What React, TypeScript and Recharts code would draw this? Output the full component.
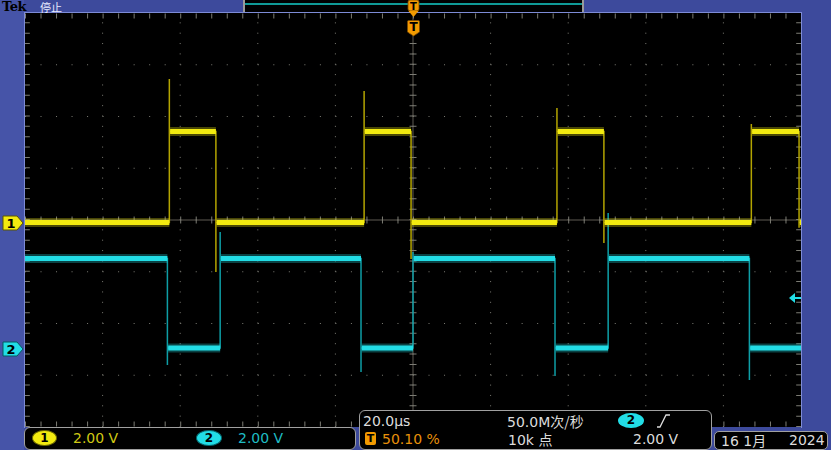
import React from 'react';
import { LineChart, Line, XAxis, YAxis, ReferenceLine } from 'recharts';

// ---- data (time in µs, volts) ----
const timeDomain = [-100, 100];
const timeGridTicks = [-80, -60, -40, -20, 0, 20, 40, 60, 80];
const ch1GridTicks = [-6, -4, -2, 0, 2, 4, 6]; // volts on ch1 scale (2 V/div)

const ch1Low = -0.1;
const ch1High = 3.42;
const ch1RiseTimes = [-62.8, -12.6, 37.1, 87.2];
const ch1RiseSpikes = [5.45, 4.99, 4.33, 3.71];
const ch1FallTimes = [-50.8, -0.5, 49.2, 99.5];
const ch1FallSpikes = [-2.01, -1.51, -0.89, -0.3];

const ch2Low = 0.05;
const ch2High = 3.51;
const ch2FallTimes = [-63.3, -13.4, 36.6, 86.7];
const ch2FallSpikes = [-0.6, -0.87, -1.03, -1.18];
const ch2RiseTimes = [-49.7, 0, 50.3];
const ch2RiseSpikes = [4.54, 3.76, 5.27];

// ---- build tables ----
type P = { t: number; v: number | null };

function buildCh1(): { trace: P[]; levels: P[] } {
  const trace: P[] = [{ t: -100, v: ch1Low }];
  const levels: P[] = [{ t: -100, v: ch1Low }];
  ch1RiseTimes.forEach((r, i) => {
    const f = ch1FallTimes[i];
    trace.push({ t: r, v: ch1Low }, { t: r, v: ch1RiseSpikes[i] }, { t: r, v: ch1High }, { t: f, v: ch1High }, { t: f, v: ch1FallSpikes[i] }, { t: f, v: ch1Low });
    levels.push({ t: r, v: ch1Low }, { t: r, v: null }, { t: r + 0.2, v: ch1High }, { t: f, v: ch1High }, { t: f, v: null }, { t: f + 0.2, v: ch1Low });
  });
  trace.push({ t: 100, v: ch1Low });
  levels.push({ t: 100, v: ch1Low });
  return { trace, levels };
}

function buildCh2(): { trace: P[]; levels: P[] } {
  const trace: P[] = [{ t: -100, v: ch2High }];
  const levels: P[] = [{ t: -100, v: ch2High }];
  ch2FallTimes.forEach((f, i) => {
    trace.push({ t: f, v: ch2High }, { t: f, v: ch2FallSpikes[i] }, { t: f, v: ch2Low });
    levels.push({ t: f, v: ch2High }, { t: f, v: null }, { t: f + 0.2, v: ch2Low });
    const r = ch2RiseTimes[i];
    if (r !== undefined) {
      trace.push({ t: r, v: ch2Low }, { t: r, v: ch2RiseSpikes[i] }, { t: r, v: ch2High });
      levels.push({ t: r, v: ch2Low }, { t: r, v: null }, { t: r + 0.2, v: ch2High });
    }
  });
  trace.push({ t: 100, v: ch2Low });
  levels.push({ t: 100, v: ch2Low });
  return { trace, levels };
}

const ch1 = buildCh1();
const ch2 = buildCh2();

const YEL = '#f2ea10';
const YEL_EDGE = '#b3a400';
const CYN = '#22dde6';
const CYN_EDGE = '#0e9ea6';
const GRID = '#7c7c74';
const CROSS = '#5e5b52';
const BLUE = '#3d4a9c';
const ORANGE = '#f29a00';

const abs = (l: number, t: number, w: number, h: number, extra: React.CSSProperties = {}): React.CSSProperties => ({
  position: 'absolute', left: l, top: t, width: w, height: h, ...extra,
});

const txt = (l: number, t: number, color: string, size = 14, extra: React.CSSProperties = {}): React.CSSProperties => ({
  position: 'absolute', left: l, top: t, color, fontSize: size, fontFamily: '"DejaVu Sans", sans-serif', lineHeight: '16px', whiteSpace: 'nowrap', ...extra,
});

export default function App() {
  const font = '"DejaVu Sans", sans-serif';
  return (
    <div style={{ position: 'fixed', left: 0, top: 0, width: 831, height: 450, background: BLUE, overflow: 'hidden', fontFamily: font }}>
      {/* left strip */}
      <div style={abs(0, 0, 24, 450, { background: '#4654a8' })} />
      {/* plot background */}
      <div style={abs(25, 13, 776, 414, { background: '#000' })} />
      {/* record view */}
      <div style={abs(243, 0, 341, 12, { background: '#000', borderLeft: '2px solid #9a9a9a', borderRight: '2px solid #9a9a9a', boxSizing: 'border-box' })} />
      <div style={abs(245, 3, 337, 2, { background: '#0f9a96' })} />

      <div style={{ position: 'absolute', left: 0, top: 13, width: 831, height: 437, overflow: 'hidden' }}>
        <div style={{ position: 'absolute', left: 0, top: -13 }}>
          <LineChart width={831} height={450} margin={{ top: 13, left: 25, right: 30, bottom: 23 }}>
            <XAxis dataKey="t" type="number" domain={timeDomain} hide allowDataOverflow />
            <YAxis yAxisId="ch1" type="number" domain={[-8, 8]} hide allowDataOverflow />
            <YAxis yAxisId="ch2" type="number" domain={[-3, 13]} hide allowDataOverflow />
            {timeGridTicks.map((t) => (
              <ReferenceLine key={'vx' + t} x={t} yAxisId="ch1" stroke={GRID} strokeDasharray="1 9.35" />
            ))}
            {ch1GridTicks.map((v) => (
              <ReferenceLine key={'hy' + v} y={v} yAxisId="ch1" stroke={GRID} strokeDasharray="1 14.52" />
            ))}
            {/* crosshair */}
            <ReferenceLine x={0} yAxisId="ch1" stroke={CROSS} />
            <ReferenceLine y={0} yAxisId="ch1" stroke={CROSS} />
            <ReferenceLine x={0} yAxisId="ch1" stroke={GRID} strokeWidth={7} strokeDasharray="1 9.35" />
            <ReferenceLine y={0} yAxisId="ch1" stroke={GRID} strokeWidth={7} strokeDasharray="1 14.52" />
            {/* border ticks */}
            <ReferenceLine y={7.88} yAxisId="ch1" stroke={GRID} strokeWidth={5} strokeDasharray="1 14.52" />
            <ReferenceLine y={-7.88} yAxisId="ch1" stroke={GRID} strokeWidth={5} strokeDasharray="1 14.52" />
            <ReferenceLine x={-99.4} yAxisId="ch1" stroke={GRID} strokeWidth={5} strokeDasharray="1 9.35" />
            <ReferenceLine x={99.4} yAxisId="ch1" stroke={GRID} strokeWidth={5} strokeDasharray="1 9.35" />

            {/* channel 2 */}
            <Line data={ch2.trace} dataKey="v" yAxisId="ch2" type="linear" stroke={CYN_EDGE} strokeWidth={1.5} dot={false} isAnimationActive={false} />
            <Line data={ch2.levels} dataKey="v" yAxisId="ch2" type="linear" stroke={CYN} strokeOpacity={0.3} strokeWidth={9} dot={false} isAnimationActive={false} connectNulls={false} />
            <Line data={ch2.levels} dataKey="v" yAxisId="ch2" type="linear" stroke={CYN} strokeWidth={5} dot={false} isAnimationActive={false} connectNulls={false} />
            {/* channel 1 */}
            <Line data={ch1.trace} dataKey="v" yAxisId="ch1" type="linear" stroke={YEL_EDGE} strokeWidth={1.5} dot={false} isAnimationActive={false} />
            <Line data={ch1.levels} dataKey="v" yAxisId="ch1" type="linear" stroke={YEL} strokeOpacity={0.3} strokeWidth={9} dot={false} isAnimationActive={false} connectNulls={false} />
            <Line data={ch1.levels} dataKey="v" yAxisId="ch1" type="linear" stroke={YEL} strokeWidth={5} dot={false} isAnimationActive={false} connectNulls={false} />
          </LineChart>
        </div>
      </div>

      {/* plot borders */}
      <div style={abs(24, 12, 778, 1, { background: '#7d8bd6' })} />
      <div style={abs(24, 12, 1, 416, { background: '#7d8bd6' })} />
      <div style={abs(801, 12, 1, 416, { background: '#7d8bd6' })} />

      {/* header text */}
      <div style={txt(2, 1, '#000', 13, { fontFamily: '"DejaVu Serif", serif', fontWeight: 'bold', lineHeight: '11px', letterSpacing: -0.5 })}>Tek</div>
      <div style={txt(40, 2, '#e8ecff', 11, { fontFamily: '"Noto Sans CJK SC", sans-serif', lineHeight: '10px', height: 10 })}>停止</div>

      {/* trigger markers */}
      <svg style={abs(400, 0, 30, 40)} width={30} height={40}>
        <rect x={8} y={0} width={11} height={11} rx={2} fill={ORANGE} stroke="#7a4a00" strokeWidth={0.8} />
        <text x={13.5} y={9.5} fontSize={10} fontWeight="bold" textAnchor="middle" fill="#000" fontFamily={font}>T</text>
        <polygon points="8.5,11 18.5,11 13.5,17" fill={ORANGE} />
        <path d="M7.5,21.5 Q7.5,20.5 9,20.5 L18,20.5 Q19.5,20.5 19.5,21.5 L19.5,32 L13.5,36 L7.5,32 Z" fill={ORANGE} stroke="#7a4a00" strokeWidth={0.8} />
        <text x={13.5} y={31} fontSize={12} fontWeight="bold" textAnchor="middle" fill="#000" fontFamily={font}>T</text>
      </svg>

      {/* channel markers */}
      <svg style={abs(0, 210, 26, 160)} width={26} height={160}>
        <path d="M3,6 L17,6 L23,13 L17,20 L3,20 Z" fill={YEL} stroke="#5a5600" strokeWidth={1} />
        <text x={11} y={18} fontSize={13} fontWeight="bold" textAnchor="middle" fill="#000" fontFamily={font}>1</text>
        <path d="M3,132 L17,132 L23,139 L17,146 L3,146 Z" fill={CYN} stroke="#055a60" strokeWidth={1} />
        <text x={11} y={144} fontSize={13} fontWeight="bold" textAnchor="middle" fill="#000" fontFamily={font}>2</text>
      </svg>

      {/* trigger level arrow */}
      <svg style={abs(786, 290, 16, 16)} width={16} height={16}>
        <polygon points="3,8 9,3 9,13" fill={CYN} />
        <rect x={8} y={7} width={7} height={2} fill={CYN} />
      </svg>

      {/* bottom readout box 1 */}
      <div style={abs(24, 427, 332, 23, { background: '#000', border: '1px solid #a0a0a0', borderRadius: 6, boxSizing: 'border-box' })} />
      <div style={abs(32, 430, 25, 16, { background: YEL, borderRadius: '50%', border: '1px solid #6a6600', boxSizing: 'border-box', textAlign: 'center', fontSize: 12, fontWeight: 'bold', lineHeight: '14px', color: '#000' })}>1</div>
      <div style={txt(73, 430, '#d0c814', 14)}>2.00 V</div>
      <div style={abs(196, 430, 26, 16, { background: CYN, borderRadius: '50%', border: '1px solid #05666c', boxSizing: 'border-box', textAlign: 'center', fontSize: 12, fontWeight: 'bold', lineHeight: '14px', color: '#000' })}>2</div>
      <div style={txt(238, 430, '#1fbcc4', 14)}>2.00 V</div>

      {/* bottom readout box 2 */}
      <div style={abs(359, 410, 353, 40, { background: '#000', border: '1px solid #a0a0a0', borderRadius: 6, boxSizing: 'border-box' })} />
      <div style={txt(363, 413, '#dcdcdc', 14)}>20.0µs</div>
      <div style={txt(507, 413, '#dcdcdc', 14)}>
        50.0M<span style={{ fontFamily: '"Noto Sans CJK SC", sans-serif' }}>次/秒</span>
      </div>
      <div style={abs(618, 413, 26, 15, { background: CYN, borderRadius: '50%', textAlign: 'center', fontSize: 12, fontWeight: 'bold', lineHeight: '15px', color: '#000' })}>2</div>
      <svg style={abs(655, 413, 18, 16)} width={18} height={16}>
        <path d="M2,14 L5,14 L11,2 L15,2" stroke="#dcdcdc" strokeWidth={1.3} fill="none" />
      </svg>
      <div style={abs(365, 432, 11, 13, { background: ORANGE, borderRadius: 2, textAlign: 'center', fontSize: 11, fontWeight: 'bold', lineHeight: '13px', color: '#000' })}>T</div>
      <div style={txt(382, 431, '#e8900a', 14)}>50.10 %</div>
      <div style={txt(508, 431, '#dcdcdc', 14)}>
        10k <span style={{ fontFamily: '"Noto Sans CJK SC", sans-serif' }}>点</span>
      </div>
      <div style={txt(633, 431, '#dcdcdc', 14)}>2.00 V</div>

      {/* date box */}
      <div style={abs(714, 431, 114, 19, { background: '#000', border: '1px solid #a0a0a0', borderRadius: 5, boxSizing: 'border-box' })} />
      <div style={txt(721, 432, '#dcdcdc', 14)}>
        16 1<span style={{ fontFamily: '"Noto Sans CJK SC", sans-serif' }}>月</span>
      </div>
      <div style={txt(789, 432, '#dcdcdc', 14)}>2024</div>
    </div>
  );
}
